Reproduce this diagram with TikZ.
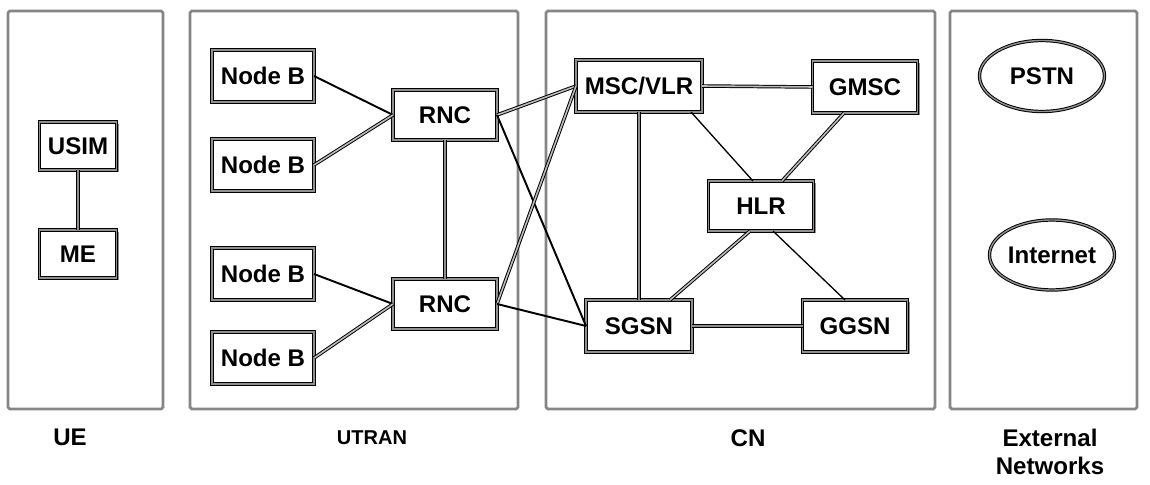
\documentclass[tikz,border=0pt]{standalone}
\usepackage{fontspec}
\setmainfont{Liberation Sans}
\newcommand*{\labelfont}{\bfseries\fontsize{13.7}{16}\selectfont}
\newcommand*{\smallfont}{\bfseries\fontsize{11.4}{14}\selectfont}
\definecolor{shade}{cmyk}{0.00,0.00,0.00,0.50}
\definecolor{rim}{cmyk}{0.00,0.00,0.00,0.55}
\definecolor{pale}{cmyk}{0.00,0.00,0.00,0.30}
\usepackage{tikz}
\usetikzlibrary{shapes.geometric}
\usetikzlibrary{shadows}
\tikzstyle{base}=[inner sep=0pt, outer sep=0pt]
\tikzstyle{panel}=[draw=rim, line width=1.6pt, rounded corners=1pt]
\tikzstyle{unit}=[draw=black, fill=white, line width=0.6pt, double=shade, double distance=0.9pt, minimum width=2.1cm, minimum height=1.04cm, drop shadow={shadow xshift=0.04cm, shadow yshift=-0.04cm, fill=shade, opacity=1}]
\tikzstyle{net}=[ellipse, draw=black, line width=0.55pt, double=shade, double distance=0.8pt, minimum width=2.5cm, minimum height=1.42cm]
\tikzstyle{wire}=[line width=1.1pt]
\tikzstyle{slimwire}=[line width=0.75pt]
\tikzstyle{twin}=[line width=0.55pt, double=pale, double distance=0.9pt]
\tikzstyle{trunk}=[line width=0.6pt, double=shade, double distance=1.3pt]

\begin{document}
\begin{tikzpicture}[base]
    \labelfont
        \path [use as bounding box] (0,0) rectangle (23,9.7);
        % domains
        \draw [panel] (0.16,1.52) rectangle (3.26,9.48);
        \draw [panel] (3.8,1.52) rectangle (10.36,9.48);
        \draw [panel] (10.92,1.52) rectangle (18.7,9.48);
        \draw [panel] (19.0,1.52) rectangle (22.74,9.48);
        \node (ue) at (1.4,0.96) {UE};
        \node [font=\smallfont] (utran) at (7.44,0.94) {UTRAN};
        \node (cn) at (14.96,0.94) {CN};
        \node [align=center] (ext) at (21.0,0.66) {External\\Networks};
        % UE
        \node [unit, minimum width=1.54cm, minimum height=0.96cm] (usim) at (1.56,6.78) {USIM};
        \node [unit, minimum width=1.54cm, minimum height=0.96cm] (me) at (1.56,4.62) {ME};
        % UTRAN
        \node [unit, minimum width=2.04cm] (nb1) at (5.26,8.18) {Node B};
        \node [unit, minimum width=2.04cm] (nb2) at (5.26,6.4) {Node B};
        \node [unit, minimum width=2.04cm] (nb3) at (5.26,4.22) {Node B};
        \node [unit, minimum width=2.04cm] (nb4) at (5.26,2.54) {Node B};
        \node [unit, minimum width=2.08cm, minimum height=1.0cm] (rnc1) at (8.9,7.4) {RNC};
        \node [unit, minimum width=2.08cm, minimum height=1.0cm] (rnc2) at (8.9,3.62) {RNC};
        % CN
        \node [unit, minimum width=2.52cm] (msc) at (12.78,7.98) {MSC/VLR};
        \node [unit] (gmsc) at (17.3,7.96) {GMSC};
        \node [unit, minimum height=1.0cm] (hlr) at (15.22,5.58) {HLR};
        \node [unit, minimum width=2.12cm] (sgsn) at (12.78,3.18) {SGSN};
        \node [unit] (ggsn) at (17.1,3.18) {GGSN};
        % external
        \node [net] (pstn) at (20.84,8.18) {PSTN};
        \node [net, minimum height=1.4cm] (inet) at (21.04,4.6) {Internet};
        % links
        \draw [trunk] (usim.south) -- (me.north);
        \draw [wire] (nb1.east) -- (rnc1.west);
        \draw [twin] (nb2.east) -- (rnc1.west);
        \draw [wire] (nb3.east) -- (rnc2.west);
        \draw [twin] (nb4.east) -- (rnc2.west);
        \draw [trunk] (rnc1.south) -- (rnc2.north);
        \draw [twin] (rnc1.east) -- (msc.west);
        \draw [wire] (rnc1.east) -- (sgsn.west);
        \draw [twin] (rnc2.east) -- (msc.west);
        \draw [wire] (rnc2.east) -- (sgsn.west);
        \draw [twin] (msc.east) -- (gmsc.west);
        \draw [trunk] (msc.south) -- (sgsn.north);
        \draw [slimwire] ([xshift=-0.22cm]msc.south east) -- ([xshift=-0.16cm]hlr.north);
        \draw [twin] ([xshift=-0.42cm]gmsc.south) -- ([xshift=0.42cm]hlr.north);
        \draw [twin] ([xshift=-0.22cm]hlr.south) -- ([xshift=0.62cm]sgsn.north);
        \draw [slimwire] ([xshift=0.24cm]hlr.south) -- ([xshift=-0.2cm]ggsn.north);
        \draw [trunk] (sgsn.east) -- (ggsn.west);
    \end{tikzpicture}
\end{document}
